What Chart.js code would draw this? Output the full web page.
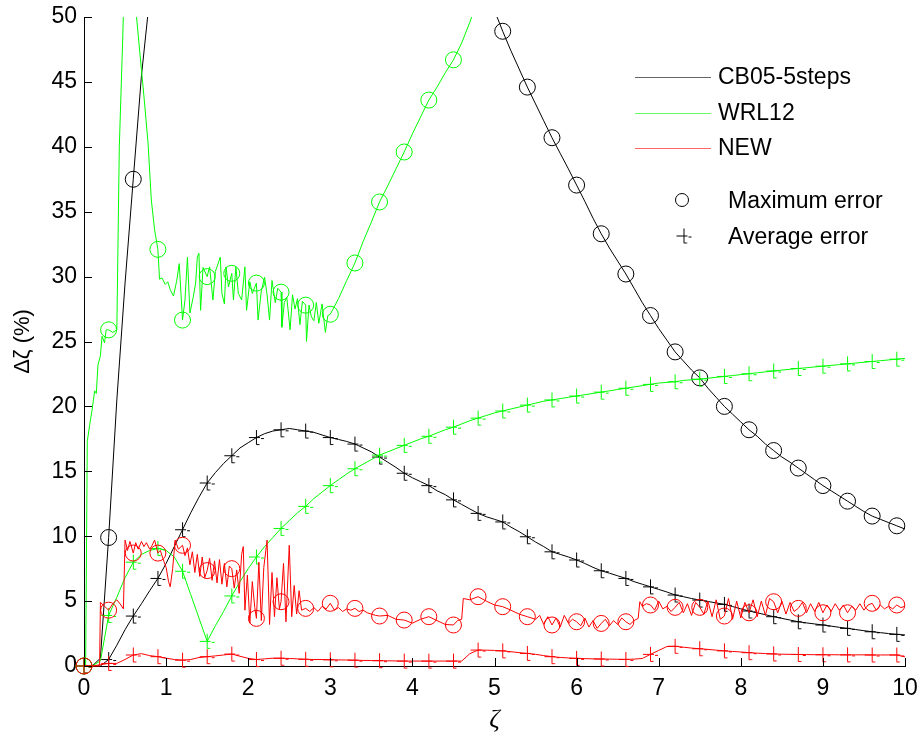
<!DOCTYPE html>
<html>
<head>
<meta charset="utf-8">
<script src="https://cdn.jsdelivr.net/npm/chart.js@4/dist/chart.umd.min.js"></script>
<style>
  html, body { margin: 0; padding: 0; background: #fff; }
  canvas { display: block; }
</style>
</head>
<body>
<canvas id="c" width="920" height="736"></canvas>
<script>
// ---------------- DATA ----------------
const seriesNames = ['CB05-5steps', 'WRL12', 'NEW'];
const markerNames = ['Maximum error', 'Average error'];
const xTicks = [0, 1, 2, 3, 4, 5, 6, 7, 8, 9, 10];
const yTicks = [0, 5, 10, 15, 20, 25, 30, 35, 40, 45, 50];

// common zeta grid for the smooth average-error curves
const zeta = [0,0.1,0.2,0.3,0.4,0.5,0.6,0.7,0.8,0.9,
  1.0,1.1,1.2,1.3,1.4,1.5,1.6,1.7,1.8,1.9,
  2.0,2.1,2.2,2.3,2.4,2.5,2.6,2.7,2.8,2.9,
  3.0,3.1,3.2,3.3,3.4,3.5,3.6,3.7,3.8,3.9,
  4.0,4.1,4.2,4.3,4.4,4.5,4.6,4.7,4.8,4.9,
  5.0,5.1,5.2,5.3,5.4,5.5,5.6,5.7,5.8,5.9,
  6.0,6.1,6.2,6.3,6.4,6.5,6.6,6.7,6.8,6.9,
  7.0,7.1,7.2,7.3,7.4,7.5,7.6,7.7,7.8,7.9,
  8.0,8.1,8.2,8.3,8.4,8.5,8.6,8.7,8.8,8.9,
  9.0,9.1,9.2,9.3,9.4,9.5,9.6,9.7,9.8,9.9,
  10.0];

// CB05-5steps, average error
const cbAvg = [0,0,0,0.5,1.6,2.8,3.85,4.8,5.8,6.75,
  7.9,9.2,10.5,11.8,13.0,14.1,14.9,15.6,16.2,16.8,
  17.2,17.6,17.9,18.1,18.2,18.3,18.2,18.1,18.0,17.8,
  17.6,17.45,17.3,17.1,16.8,16.5,16.1,15.7,15.3,14.85,
  14.5,14.2,13.9,13.5,13.2,12.8,12.45,12.1,11.76,11.5,
  11.3,11.1,10.7,10.35,9.96,9.55,9.2,8.8,8.6,8.4,
  8.17,7.9,7.6,7.34,7.15,6.95,6.75,6.5,6.3,6.1,
  5.9,5.7,5.47,5.34,5.2,5.08,4.97,4.86,4.75,4.58,
  4.4,4.24,4.1,3.95,3.8,3.67,3.54,3.41,3.32,3.24,
  3.16,3.07,2.98,2.9,2.81,2.72,2.64,2.57,2.5,2.44,
  2.39];

// WRL12, average error
const wrlAvg = [0,0,0.4,3.9,5.3,6.8,8.0,8.6,8.9,9.05,
  8.9,8.4,7.3,5.5,3.7,1.9,3.1,4.2,5.4,6.5,
  7.5,8.4,9.2,9.9,10.6,11.2,11.8,12.3,12.9,13.4,
  13.9,14.35,14.8,15.2,15.55,15.9,16.25,16.5,16.75,17.0,
  17.25,17.5,17.7,17.95,18.2,18.4,18.65,18.9,19.1,19.3,
  19.5,19.65,19.8,19.95,20.1,20.25,20.4,20.5,20.6,20.7,
  20.8,20.9,21.0,21.1,21.2,21.3,21.4,21.5,21.6,21.7,
  21.8,21.85,21.9,22.0,22.05,22.1,22.17,22.24,22.31,22.38,
  22.45,22.52,22.59,22.66,22.73,22.8,22.86,22.92,22.98,23.04,
  23.1,23.16,23.22,23.28,23.34,23.4,23.46,23.52,23.58,23.64,
  23.7];

// NEW, average error
const newAvg = [0,0,0.1,0.2,0.2,0.5,0.85,0.95,0.8,0.72,
  0.6,0.5,0.45,0.5,0.65,0.72,0.78,0.85,0.92,0.75,
  0.59,0.5,0.55,0.6,0.6,0.58,0.55,0.52,0.5,0.5,
  0.48,0.47,0.46,0.45,0.43,0.42,0.41,0.4,0.39,0.38,
  0.38,0.38,0.38,0.38,0.38,0.38,0.38,0.95,1.23,1.22,
  1.2,1.17,1.1,1.03,0.97,0.9,0.8,0.72,0.66,0.62,
  0.59,0.57,0.55,0.54,0.53,0.52,0.51,0.53,0.58,0.9,
  1.2,1.5,1.52,1.45,1.38,1.33,1.28,1.22,1.17,1.12,
  1.08,1.03,0.99,0.96,0.93,0.91,0.9,0.89,0.88,0.87,
  0.87,0.87,0.86,0.86,0.86,0.86,0.85,0.85,0.85,0.85,
  0.7];

// CB05-5steps, maximum error  [zeta, value]  (goes above 50 between ~0.8 and ~5.0)
const cbMax = [[0,0],[0.1,0],[0.2,0.6],[0.3,9.9],[0.4,20.5],[0.5,29.5],[0.6,37.5],[0.7,45.5],[0.8,51.5],[0.9,57],
  [4.9,52.3],[5.0,50.5],[5.1,48.9],[5.2,47.4],[5.3,46.0],[5.4,44.6],[5.5,43.3],[5.6,42.0],[5.7,40.7],[5.8,39.5],[5.9,38.3],
  [6.0,37.05],[6.1,35.8],[6.2,34.5],[6.3,33.3],[6.4,32.2],[6.5,31.2],[6.6,30.2],[6.7,29.1],[6.8,28.0],[6.9,27.0],
  [7.0,26.0],[7.1,25.1],[7.2,24.2],[7.3,23.5],[7.4,22.8],[7.5,22.2],[7.6,21.4],[7.7,20.7],[7.8,20.0],[7.9,19.4],
  [8.0,18.8],[8.1,18.2],[8.2,17.7],[8.3,17.1],[8.4,16.6],[8.5,16.1],[8.6,15.7],[8.7,15.25],[8.8,14.8],[8.9,14.35],
  [9.0,13.9],[9.1,13.5],[9.2,13.1],[9.3,12.7],[9.4,12.3],[9.5,11.9],[9.6,11.55],[9.7,11.3],[9.8,11.05],[9.9,10.8],
  [10.0,10.55]];

// WRL12, maximum error  [zeta, value]
const wrlMax = [[0,0],[0.02,0],[0.04,17.3],[0.07,18.6],[0.1,19.8],[0.13,21.2],[0.15,21.0],[0.17,23.2],[0.2,23.9],
  [0.22,25.4],[0.25,24.9],[0.27,25.9],[0.3,25.9],[0.35,25.7],[0.4,25.9],[0.43,40],[0.47,48],[0.5,55],
  [0.62,53],[0.64,50],[0.7,45.9],[0.73,43.9],[0.78,40.3],[0.82,35.9],[0.86,33.6],[0.9,32.1],
  [0.92,29.8],[0.95,29.9],[0.99,29.4],[1.02,29.6],[1.05,29.0],[1.09,28.5],[1.13,29.7],[1.16,31.0],
  [1.2,26.65],[1.23,28.2],[1.26,31.5],[1.29,27.2],[1.33,28.4],[1.36,29.5],[1.38,31.5],[1.4,31.8],
  [1.42,27.4],[1.45,30.7],[1.5,30.0],[1.53,30.75],[1.57,28.2],[1.6,30.4],[1.62,30.75],[1.66,31.5],
  [1.68,28.7],[1.71,27.9],[1.73,30.75],[1.76,29.2],[1.8,30.25],[1.82,28.2],[1.85,30.75],[1.88,28.7],
  [1.92,28.2],[1.96,30.75],[1.98,27.4],[2.02,29.6],[2.05,28.7],[2.1,29.5],[2.12,26.65],[2.16,28.9],
  [2.2,29.95],[2.23,28.6],[2.26,26.65],[2.29,29.7],[2.33,28.0],[2.36,29.1],[2.4,28.8],[2.41,26.1],
  [2.44,28.0],[2.47,28.4],[2.51,25.9],[2.54,28.6],[2.57,27.5],[2.6,28.3],[2.63,26.3],[2.66,28.1],
  [2.7,27.8],[2.71,25.0],[2.74,27.8],[2.77,26.9],[2.8,26.6],[2.83,28.0],[2.86,26.4],[2.9,27.9],
  [2.94,25.7],[2.97,27.0],[3.0,27.1],[3.1,28.3],[3.2,29.7],[3.3,31.05],[3.4,32.7],[3.5,34.2],
  [3.6,35.75],[3.7,37.0],[3.8,38.3],[3.9,39.6],[4.0,41.0],[4.1,42.3],[4.2,43.6],[4.3,44.6],
  [4.4,45.7],[4.5,46.7],[4.6,48.0],[4.7,49.6],[4.8,51.5]];

// NEW, maximum error  [zeta, value]
const newMax = [[0,0],[0.1,0],[0.19,0],[0.2,4.9],[0.25,4.6],[0.3,4.3],[0.35,4.8],[0.4,5.1],[0.45,4.7],[0.48,4.4],
  [0.5,9.7],[0.53,8.9],[0.56,9.6],[0.6,8.7],[0.63,9.5],[0.66,9.0],[0.7,9.6],[0.73,9.2],[0.76,9.5],[0.8,9.0],
  [0.83,9.3],[0.86,9.7],[0.9,8.7],[0.93,8.9],[0.96,8.3],[1.0,7.6],[1.03,6.5],[1.05,6.1],[1.08,7.5],[1.11,9.7],
  [1.15,9.0],[1.2,9.3],[1.23,8.5],[1.26,9.1],[1.29,7.8],[1.32,8.8],[1.35,7.2],[1.38,8.6],[1.41,6.9],[1.44,8.4],
  [1.47,6.8],[1.5,7.35],[1.53,8.3],[1.56,6.6],[1.59,8.1],[1.62,6.4],[1.65,8.2],[1.68,6.3],[1.71,7.9],[1.74,6.1],
  [1.77,7.7],[1.8,7.5],[1.83,6.0],[1.86,7.4],[1.89,5.6],[1.92,8.6],[1.94,9.2],[1.96,4.3],[1.99,7.0],[2.02,3.3],
  [2.05,6.5],[2.08,4.5],[2.1,3.67],[2.13,8.0],[2.16,3.5],[2.19,7.6],[2.23,9.7],[2.26,3.2],[2.29,7.2],[2.32,3.8],
  [2.35,6.8],[2.38,4.4],[2.4,4.95],[2.43,7.9],[2.46,3.4],[2.5,9.3],[2.53,3.8],[2.56,6.2],[2.59,4.0],[2.62,5.8],
  [2.65,4.3],[2.7,4.44],[2.75,4.2],[2.8,4.5],[2.85,4.2],[2.9,4.6],[2.95,4.4],[3.0,4.83],[3.05,4.3],[3.1,4.5],
  [3.15,4.2],[3.2,4.4],[3.25,4.3],[3.3,4.44],[3.35,4.2],[3.4,4.3],[3.45,4.1],[3.5,4.0],[3.55,3.9],[3.6,3.85],
  [3.7,3.9],[3.8,3.6],[3.9,3.54],[4.0,3.3],[4.1,3.6],[4.2,3.8],[4.3,3.5],[4.4,3.2],[4.5,3.16],[4.55,3.5],
  [4.6,3.6],[4.62,5.2],[4.7,5.1],[4.8,5.34],[4.9,5.0],[5.0,4.7],[5.1,4.57],[5.2,4.3],[5.3,4.0],[5.4,3.8],
  [5.5,3.6],[5.55,3.9],[5.6,3.2],[5.65,3.8],[5.7,3.16],[5.75,3.7],[5.8,3.0],[5.85,3.9],[5.9,3.3],[5.95,3.6],
  [6.0,3.41],[6.05,3.1],[6.1,3.7],[6.15,3.0],[6.2,3.5],[6.25,2.9],[6.3,3.28],[6.35,3.6],[6.4,3.1],[6.45,3.5],
  [6.5,3.2],[6.55,3.7],[6.6,3.41],[6.65,3.2],[6.7,3.5],[6.75,3.67],[6.77,4.95],[6.8,4.6],[6.85,4.8],[6.9,4.7],
  [6.95,4.3],[7.0,5.0],[7.05,4.4],[7.1,4.6],[7.15,4.2],[7.2,4.52],[7.25,4.9],[7.3,4.1],[7.35,4.8],[7.4,3.9],
  [7.45,4.9],[7.5,4.52],[7.55,4.0],[7.6,5.0],[7.65,3.8],[7.7,5.1],[7.75,3.6],[7.8,3.85],[7.85,5.2],[7.9,3.6],
  [7.95,5.0],[8.0,3.7],[8.05,4.9],[8.1,4.1],[8.15,5.1],[8.2,3.8],[8.25,5.0],[8.3,3.9],[8.35,5.2],[8.4,4.95],
  [8.45,4.1],[8.5,5.0],[8.55,4.0],[8.6,4.9],[8.65,4.2],[8.7,4.44],[8.75,4.9],[8.8,4.1],[8.85,4.8],[8.9,4.2],
  [8.95,4.9],[9.0,4.1],[9.05,4.7],[9.1,4.2],[9.15,4.8],[9.2,4.3],[9.25,4.7],[9.3,4.1],[9.35,4.6],[9.4,4.3],
  [9.45,4.8],[9.5,4.3],[9.55,4.7],[9.6,4.83],[9.65,4.3],[9.7,4.7],[9.75,4.4],[9.8,4.6],[9.85,4.4],[9.9,4.7],
  [9.95,4.5],[10.0,4.6]];

// ---------------- STYLE ----------------
const BLACK = '#000000', GREEN = '#00ff00', RED = '#ff0000';
const FONT = '"Liberation Sans", Arial, sans-serif';

// markers are drawn every 0.3 in zeta
function isMark(x) {
  const t = Math.round(x * 10);
  return Math.abs(x * 10 - t) < 1e-6 && t % 3 === 0;
}

function plusGlyph(color) {
  const c = document.createElement('canvas');
  c.width = 19; c.height = 19;
  const g = c.getContext('2d');
  g.strokeStyle = color; g.lineWidth = 1;
  g.beginPath();
  g.moveTo(9.5, 2); g.lineTo(9.5, 16.5);
  g.moveTo(2, 9.5); g.lineTo(13, 9.5);
  g.moveTo(9.5, 16.5); g.lineTo(12.5, 16.5);
  g.moveTo(14, 10.5); g.lineTo(17, 10.5);
  g.stroke();
  return c;
}
const plusStyles = { [BLACK]: plusGlyph(BLACK), [GREEN]: plusGlyph(GREEN), [RED]: plusGlyph(RED) };

function fromPairs(p) { return p.map(v => ({ x: v[0], y: v[1] })); }
function fromGrid(xs, ys) { return xs.map((x, i) => ({ x: x, y: ys[i] })); }

function dataset(label, data, color, kind, order) {
  return {
    label: label,
    data: data,
    borderColor: color,
    borderWidth: 1,
    backgroundColor: 'transparent',
    fill: false,
    tension: 0,
    order: order,
    clip: { left: 14, top: 0, right: 14, bottom: 14 },
    pointStyle: kind === 'max' ? 'circle' : plusStyles[color],
    pointRadius: ctx => (ctx.raw && ctx.raw.y != null && isMark(ctx.raw.x)) ? 8 : 0,
    pointBorderColor: color,
    pointBackgroundColor: 'transparent',
    pointBorderWidth: 1,
    pointHoverRadius: 0
  };
}

const datasets = [
  dataset(seriesNames[0] + ' max', fromPairs(cbMax), BLACK, 'max', 6),
  dataset(seriesNames[0] + ' avg', fromGrid(zeta, cbAvg), BLACK, 'avg', 5),
  dataset(seriesNames[1] + ' max', fromPairs(wrlMax), GREEN, 'max', 4),
  dataset(seriesNames[1] + ' avg', fromGrid(zeta, wrlAvg), GREEN, 'avg', 3),
  dataset(seriesNames[2] + ' max', fromPairs(newMax), RED, 'max', 2),
  dataset(seriesNames[2] + ' avg', fromGrid(zeta, newAvg), RED, 'avg', 1)
];

// inward tick marks (MATLAB style)
const inwardTicks = {
  id: 'inwardTicks',
  afterDatasetsDraw(chart) {
    const { ctx, chartArea: a, scales: { x, y } } = chart;
    ctx.save();
    ctx.strokeStyle = '#000'; ctx.lineWidth = 1;
    ctx.beginPath();
    x.ticks.forEach(t => {
      const px = Math.round(x.getPixelForValue(t.value)) + 0.5;
      ctx.moveTo(px, a.bottom); ctx.lineTo(px, a.bottom - 8);
    });
    y.ticks.forEach(t => {
      const py = Math.round(y.getPixelForValue(t.value)) + 0.5;
      ctx.moveTo(a.left, py); ctx.lineTo(a.left + 8, py);
    });
    ctx.stroke();
    ctx.restore();
  }
};

// legend drawn like the MATLAB legend (no box)
const matlabLegend = {
  id: 'matlabLegend',
  afterDraw(chart) {
    const ctx = chart.ctx;
    const colors = [BLACK, GREEN, RED];
    const rows = [77, 113, 148];
    ctx.save();
    ctx.font = '23px ' + FONT;
    ctx.textBaseline = 'middle';
    ctx.textAlign = 'left';
    seriesNames.forEach((name, i) => {
      ctx.strokeStyle = colors[i]; ctx.lineWidth = 1;
      ctx.globalAlpha = 0.6;
      ctx.beginPath(); ctx.moveTo(635, rows[i] + 0.5); ctx.lineTo(711, rows[i] + 0.5); ctx.stroke();
      ctx.globalAlpha = 1;
      ctx.fillStyle = '#000';
      ctx.fillText(name, 718, rows[i] + 1);
    });
    // marker legend
    ctx.strokeStyle = '#000'; ctx.lineWidth = 1;
    ctx.beginPath(); ctx.arc(682, 200, 6.5, 0, Math.PI * 2); ctx.stroke();
    ctx.drawImage(plusStyles[BLACK], 684 - 9.5, 236 - 9.5);
    ctx.fillStyle = '#000';
    ctx.fillText(markerNames[0], 728, 202);
    ctx.fillText(markerNames[1], 728, 238);
    ctx.restore();
  }
};

new Chart(document.getElementById('c'), {
  type: 'line',
  data: { datasets: datasets },
  plugins: [inwardTicks, matlabLegend],
  options: {
    responsive: false,
    animation: false,
    devicePixelRatio: 1,
    layout: { padding: { top: 17, right: 15, left: 0, bottom: 0 } },
    plugins: { legend: { display: false }, tooltip: { enabled: false } },
    events: [],
    scales: {
      x: {
        type: 'linear', min: 0, max: 10,
        afterBuildTicks: s => { s.ticks = xTicks.map(v => ({ value: v })); },
        ticks: { color: '#000', font: { family: FONT, size: 23 }, padding: 9, maxRotation: 0, autoSkip: false },
        grid: { display: true, drawOnChartArea: false, drawTicks: false },
        border: { display: true, color: '#000', width: 1 },
        title: { display: true, text: 'ζ', color: '#000', font: { family: '"Liberation Serif", serif', size: 26, style: 'italic' }, padding: { top: 0, bottom: 0 } },
        afterFit: s => { s.height = 70; s.paddingLeft = 0; s.paddingRight = 0; }
      },
      y: {
        type: 'linear', min: 0, max: 50,
        afterBuildTicks: s => { s.ticks = yTicks.map(v => ({ value: v })); },
        ticks: { color: '#000', font: { family: FONT, size: 23 }, padding: 7 },
        grid: { display: true, drawOnChartArea: false, drawTicks: false },
        border: { display: true, color: '#000', width: 1 },
        title: { display: true, text: 'Δζ (%)', color: '#000', font: { family: FONT, size: 22 }, padding: { top: 10, bottom: 0 } },
        afterFit: s => { s.width = 84; s.paddingTop = 0; s.paddingBottom = 0; }
      }
    }
  }
});
</script>
</body>
</html>
